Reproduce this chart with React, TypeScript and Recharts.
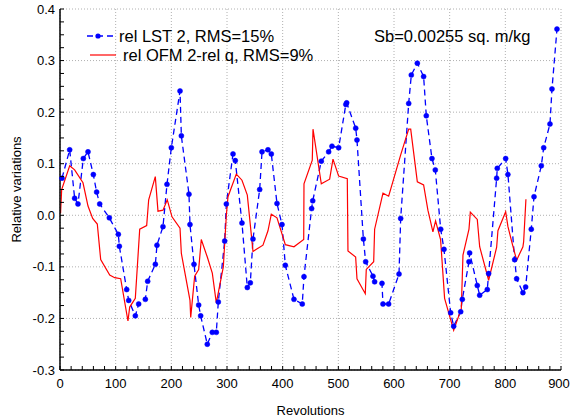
import React from 'react';
import { LineChart, Line, XAxis, YAxis, CartesianGrid, Legend } from 'recharts';

// Series 1: rel LST 2 (blue, dashed with dots)
const lstX = [3.6, 17.4, 26.3, 32.3, 41.9, 50.3, 59.9, 65.8, 71.3, 88.6, 104.8, 106.6, 119.8, 123.4, 135.3, 141.3, 153.3, 157.5, 171.3, 174.2, 185, 192.2, 200, 215.6, 218, 231.7, 233.5, 240.7, 249.1, 252.7, 264.6, 273.6, 280.8, 284.4, 295.8, 298.8, 310.8, 314.9, 326.9, 336.5, 341.9, 346.7, 358.7, 362.9, 373.6, 379.6, 389.8, 398.8, 404.8, 420.3, 435.2, 438.3, 452, 454, 469.4, 482.6, 488.6, 500.6, 513.5, 515, 531.2, 533.5, 545, 549.1, 562.2, 565.2, 578.4, 580.2, 590.4, 609, 612, 626.4, 631.1, 641.9, 653.2, 658, 668.2, 674.2, 683.9, 689.8, 701.8, 707.2, 719.8, 722.7, 734.7, 735.9, 749.6, 753.9, 767.6, 770, 784.4, 785.5, 800.6, 804.7, 816.7, 820.3, 831.6, 836.5, 846.6, 851.5, 864.6, 868.9, 880.2, 883.8, 892.8];
const lstY = [0.072, 0.127, 0.033, 0.022, 0.110, 0.123, 0.079, 0.045, 0.022, -0.005, -0.037, -0.060, -0.144, -0.165, -0.195, -0.172, -0.163, -0.128, -0.095, -0.058, -0.022, 0.060, 0.131, 0.241, 0.154, 0.041, -0.018, -0.095, -0.174, -0.195, -0.250, -0.227, -0.227, -0.168, -0.050, 0.022, 0.119, 0.106, -0.015, -0.140, -0.131, -0.046, 0.050, 0.123, 0.127, 0.119, 0.023, -0.018, -0.097, -0.163, -0.172, -0.119, 0.013, 0.028, 0.105, 0.123, 0.134, 0.131, 0.215, 0.218, 0.169, 0.146, -0.046, -0.090, -0.118, -0.129, -0.132, -0.172, -0.172, -0.114, -0.006, 0.217, 0.272, 0.295, 0.269, 0.193, 0.110, 0.088, -0.027, -0.066, -0.189, -0.215, -0.187, -0.163, -0.090, -0.073, -0.136, -0.155, -0.144, -0.113, 0.072, 0.091, 0.110, 0.079, -0.086, -0.123, -0.150, -0.139, -0.027, 0.036, 0.096, 0.131, 0.177, 0.245, 0.361];

// Series 2: rel OFM 2-rel q (red, solid)
const ofmX = [1, 3, 17.4, 26.3, 41.3, 50.3, 58.7, 67, 73.1, 89.3, 98.3, 109, 122.1, 125.2, 135.3, 143.2, 155.7, 159.3, 171.2, 176, 185, 192.7, 201.2, 215.6, 218, 233.5, 234.8, 241.9, 249.1, 253.8, 264.6, 273.6, 280.8, 293.4, 298.8, 301.8, 316.7, 326.9, 336.5, 346.7, 355.7, 364.6, 373.6, 379.6, 389.8, 404.8, 420.3, 437.8, 438.3, 453.2, 454.5, 469.4, 484.4, 490.4, 500.6, 516.1, 517.3, 531.1, 533.5, 548.4, 550.2, 563.5, 565.2, 580.2, 590.4, 612, 626.4, 630, 641.9, 653.2, 660.9, 669.9, 674.7, 683.7, 690.9, 707.2, 720.9, 723.9, 734.7, 737.1, 749.6, 753.9, 770, 784.4, 786.7, 800.6, 804.7, 811.9, 820.3, 831.6, 832.9, 837];
const ofmY = [0.004, 0.05, 0.096, 0.088, 0.063, 0.018, -0.006, -0.017, -0.086, -0.116, -0.121, -0.123, -0.205, -0.178, -0.161, -0.027, -0.020, 0.030, 0.075, 0.008, 0.010, 0.030, -0.003, -0.025, -0.074, -0.165, -0.198, -0.118, -0.105, -0.047, -0.081, -0.112, -0.170, -0.100, 0.000, 0.036, 0.080, 0.068, 0.039, -0.070, -0.064, -0.058, -0.030, 0.002, -0.005, -0.057, -0.061, -0.047, 0.061, 0.107, 0.167, 0.061, 0.070, 0.109, 0.076, 0.071, -0.069, -0.081, -0.123, -0.152, -0.105, -0.090, -0.027, 0.043, 0.037, 0.117, 0.167, 0.167, 0.065, 0.059, 0.010, -0.032, -0.011, -0.047, -0.161, -0.223, -0.181, -0.077, -0.027, 0.006, -0.008, -0.061, -0.126, -0.062, -0.030, 0.007, -0.022, -0.053, -0.087, -0.061, -0.051, 0.031];

const xMajor = [0, 100, 200, 300, 400, 500, 600, 700, 800, 900];
const xMinor = Array.from({ length: 46 }, (_, i) => i * 20);
const yMajor = [-0.3, -0.2, -0.1, 0, 0.1, 0.2, 0.3, 0.4];
const yMinor = Array.from({ length: 29 }, (_, i) => Math.round((-0.3 + i * 0.025) * 1000) / 1000);

const seriesNames = ['rel LST 2, RMS=15%', 'rel OFM 2-rel q, RMS=9%'];
const noteText = 'Sb=0.00255 sq. m/kg';

const lstData = lstX.map((x, i) => ({ x, y: lstY[i] }));
const ofmData = ofmX.map((x, i) => ({ x, y: ofmY[i] }));

const FONT = '"Liberation Sans", Arial, sans-serif';
const TICK = 4;

const isMajorX = (v: number) => Math.abs(v % 100) < 1e-6;
const isMajorY = (v: number) => Math.abs(Math.round(v * 10) - v * 10) < 1e-6;

const BottomTick = (props: any) => {
  const { x, y, payload } = props;
  const v = payload.value;
  return (
    <g>
      <line x1={x} x2={x} y1={y} y2={y - TICK} stroke="#000" strokeWidth={1} />
      {isMajorX(v) && (
        <text x={v === 900 ? x - 2 : x} y={y + 18} textAnchor="middle" fontSize={13} fontFamily={FONT} fill="#000">{v}</text>
      )}
    </g>
  );
};

const TopTick = (props: any) => {
  const { x, y } = props;
  return <line x1={x} x2={x} y1={y} y2={y + TICK} stroke="#000" strokeWidth={1} />;
};

const LeftTick = (props: any) => {
  const { x, y, payload } = props;
  const v = payload.value;
  return (
    <g>
      <line x1={x} x2={x + TICK} y1={y} y2={y} stroke="#000" strokeWidth={1} />
      {isMajorY(v) && (
        <text x={x - 5} y={y + 4.5} textAnchor="end" fontSize={13} fontFamily={FONT} fill="#000">{v.toFixed(1)}</text>
      )}
    </g>
  );
};

const RightTick = (props: any) => {
  const { x, y } = props;
  return <line x1={x} x2={x - TICK} y1={y} y2={y} stroke="#000" strokeWidth={1} />;
};

const LegendContent = () => (
  <div style={{ position: 'relative', width: 570, height: 70, fontFamily: FONT, pointerEvents: 'none' }}>
    <svg width={570} height={70} style={{ position: 'absolute', left: 0, top: 0 }}>
      <line x1={87} x2={114} y1={36} y2={36} stroke="#0000FF" strokeWidth={1.3} strokeDasharray="6 4" />
      <circle cx={98} cy={36} r={2.6} fill="#0000FF" />
      <text x={119} y={42} fontSize={16.5} fill="#000">{seriesNames[0]}</text>
      <line x1={90} x2={116} y1={55} y2={55} stroke="#FF0000" strokeWidth={1.2} />
      <text x={123} y={61} fontSize={16.5} fill="#000">{seriesNames[1]}</text>
      <text x={374} y={42} fontSize={16.5} fill="#000">{noteText}</text>
    </svg>
  </div>
);

export default function App() {
  return (
    <div style={{ position: 'absolute', left: 0, top: 0, width: 570, height: 419, background: '#fff' }}>
      <LineChart width={570} height={419} margin={{ top: 9, right: 9, left: 0, bottom: 0 }}>
        <CartesianGrid xAxisId="b" yAxisId="l" stroke="#b0b0b0" strokeDasharray="1 2" horizontalValues={yMajor} verticalValues={xMajor} />
        <XAxis
          xAxisId="b"
          type="number"
          dataKey="x"
          domain={[0, 900]}
          ticks={xMinor}
          interval={0}
          tickSize={0}
          tickMargin={0}
          tickLine={false}
          tick={BottomTick}
          height={49}
          axisLine={{ stroke: '#000', strokeWidth: 1.5 }}
          label={{ value: 'Revolutions', position: 'insideBottom', offset: 4, style: { fontSize: 13, fontFamily: FONT, fill: '#000' } }}
        />
        <XAxis
          xAxisId="t"
          orientation="top"
          type="number"
          dataKey="x"
          domain={[0, 900]}
          ticks={xMinor}
          interval={0}
          tickSize={0}
          tickMargin={0}
          tickLine={false}
          tick={TopTick}
          height={0}
          axisLine={{ stroke: '#000', strokeWidth: 1.5 }}
        />
        <YAxis
          yAxisId="l"
          type="number"
          domain={[-0.3, 0.4]}
          ticks={yMinor}
          interval={0}
          tickSize={0}
          tickMargin={0}
          tickLine={false}
          tick={LeftTick}
          width={60}
          axisLine={{ stroke: '#000', strokeWidth: 1.5 }}
          label={{ value: 'Relative variations', angle: -90, position: 'insideLeft', offset: 16, style: { textAnchor: 'middle', fontSize: 13, fontFamily: FONT, fill: '#000' } }}
        />
        <YAxis
          yAxisId="r"
          orientation="right"
          type="number"
          domain={[-0.3, 0.4]}
          ticks={yMinor}
          interval={0}
          tickSize={0}
          tickMargin={0}
          tickLine={false}
          tick={RightTick}
          width={0}
          axisLine={{ stroke: '#000', strokeWidth: 1.5 }}
        />
        <Line
          xAxisId="b"
          yAxisId="l"
          data={lstData}
          dataKey="y"
          type="linear"
          stroke="#0000FF"
          strokeWidth={1.3}
          strokeDasharray="6 4"
          dot={{ r: 2.5, fill: '#0000FF', stroke: '#0000FF', strokeWidth: 0.5, strokeDasharray: '' }}
          isAnimationActive={false}
          name={seriesNames[0]}
        />
        <Line
          xAxisId="b"
          yAxisId="l"
          data={ofmData}
          dataKey="y"
          type="linear"
          stroke="#FF0000"
          strokeWidth={1.2}
          dot={false}
          isAnimationActive={false}
          name={seriesNames[1]}
        />
        <Legend
          layout="vertical"
          align="center"
          verticalAlign="middle"
          content={LegendContent}
          wrapperStyle={{ position: 'absolute', left: 0, top: 0, width: 570, height: 70 }}
        />
      </LineChart>
    </div>
  );
}
